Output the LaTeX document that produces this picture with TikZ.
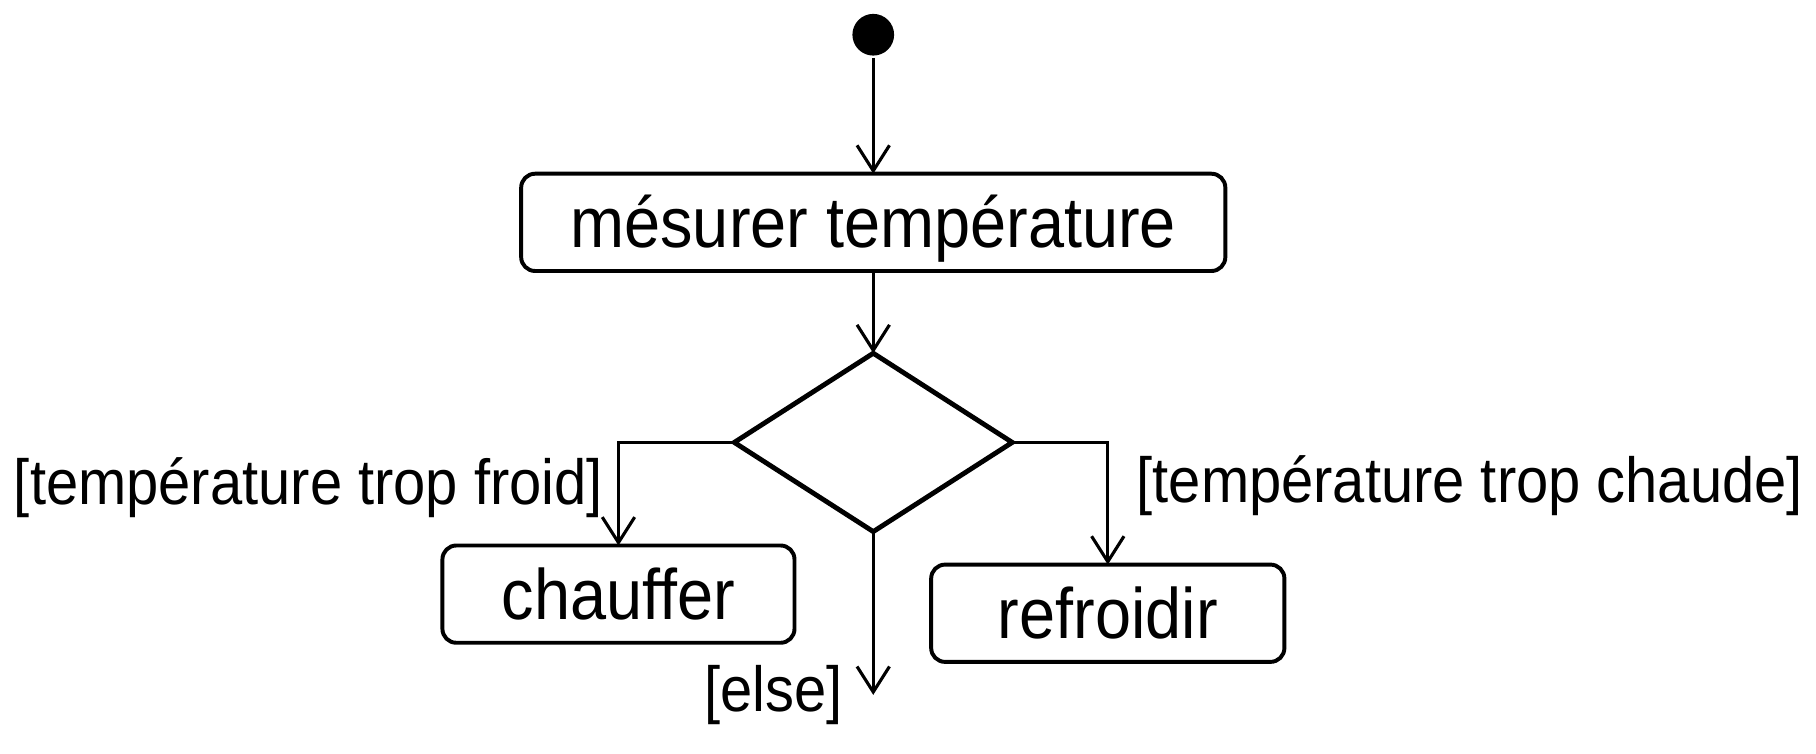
\documentclass[tikz,border=0pt]{standalone}
\usepackage{fontspec}
\setmainfont{Liberation Sans}
\usetikzlibrary{shapes.geometric,arrows.meta}
\newcommand{\tall}[1]{\scalebox{1}[1.1]{#1}}
\begin{document}
\begin{tikzpicture}[x=0.5pt,y=-0.5pt,
  act/.style={draw,line width=1.7pt,rounded corners=6pt,minimum height=42pt,inner sep=0pt,outer sep=0pt,
    font=\fontsize{28pt}{32pt}\selectfont,text height=22pt,text depth=0pt},
  dec/.style={draw,diamond,line width=2.1pt,minimum width=120pt,minimum height=77pt,inner sep=0pt,outer sep=0pt},
  conn/.style={line width=1.35pt,-{Straight Barb[length=11pt,width=14pt,line width=1.35pt]}},
  guard/.style={inner sep=0pt,font=\fontsize{25pt}{29pt}\selectfont}
]
\useasboundingbox (0,0) rectangle (1568,651);
\node[circle,fill=black,minimum size=18pt,inner sep=0pt,outer sep=1pt] (init) at (754,30) {};
\node[act,minimum width=304pt] (mes) at (754,192) {\tall{mésurer température}};
\node[dec] (dia) at (754,382) {};
\node[act,minimum width=152pt] (ch) at (534,513) {\tall{chauffer}};
\node[act,minimum width=152.5pt] (rf) at (956.5,529.5) {\tall{refroidir}};
\coordinate (elseend) at (754,600);

\draw[conn] (init) -- (mes.north);
\draw[conn] (mes.south) -- (dia.north);
\draw[conn] (dia.west) -| (ch.north);
\draw[conn] (dia.east) -| (rf.north);
\draw[conn] (dia.south) -- (elseend);

\node[guard,anchor=base east] (gf) at (521,436) {\tall{[température trop froid]}};
\node[guard,anchor=base west] (gc) at (981,434) {\tall{[température trop chaude]}};
\node[guard,anchor=base east] (ge) at (728,614) {\tall{[else]}};
\end{tikzpicture}
\end{document}
